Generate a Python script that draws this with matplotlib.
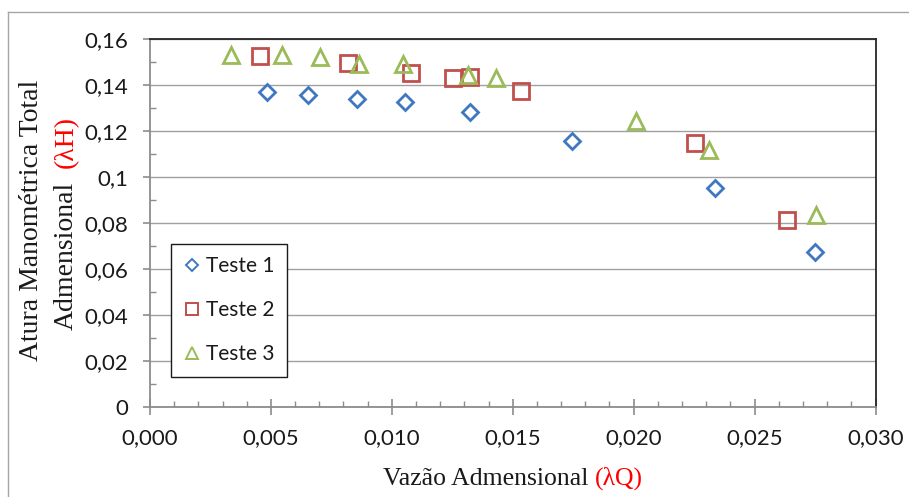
import matplotlib
matplotlib.use("Agg")
import matplotlib.pyplot as plt
from matplotlib.ticker import MultipleLocator, FixedLocator, FixedFormatter
from matplotlib.lines import Line2D

# ---- data -------------------------------------------------------------
teste1_q = [0.00483, 0.00655, 0.00855, 0.01054, 0.01323, 0.01746, 0.02336, 0.02751]
teste1_h = [0.1371, 0.1356, 0.1338, 0.1325, 0.1284, 0.1157, 0.0950, 0.0673]

teste2_q = [0.00455, 0.00820, 0.01078, 0.01252, 0.01323, 0.01533, 0.02254, 0.02633]
teste2_h = [0.1526, 0.1494, 0.1453, 0.1429, 0.1436, 0.1374, 0.1146, 0.0812]

teste3_q = [0.00334, 0.00545, 0.00703, 0.00865, 0.01045, 0.01316, 0.01431, 0.02008, 0.02312, 0.02753]
teste3_h = [0.1530, 0.1530, 0.1520, 0.1491, 0.1491, 0.1443, 0.1432, 0.1245, 0.1117, 0.0834]

series_names = ["Teste 1", "Teste 2", "Teste 3"]

x_ticks = [0.000, 0.005, 0.010, 0.015, 0.020, 0.025, 0.030]
x_tick_labels = ["0,000", "0,005", "0,010", "0,015", "0,020", "0,025", "0,030"]
y_ticks = [0.00, 0.02, 0.04, 0.06, 0.08, 0.10, 0.12, 0.14, 0.16]
y_tick_labels = ["0", "0,02", "0,04", "0,06", "0,08", "0,1", "0,12", "0,14", "0,16"]

x_label_main, x_label_sym = "Vazão Admensional", "(λQ)"
y_label_line1 = "Atura Manométrica Total"
y_label_main, y_label_sym = "Admensional", "(λH)"

# ---- style ------------------------------------------------------------
W, H = 909, 497
SANS = ["Lato", "DejaVu Sans"]
SERIF = ["Liberation Serif", "DejaVu Serif"]
BLUE, RED, GREEN = "#3f78c0", "#c0504d", "#9bbb59"
AXIS_GRAY = "#8c8c8c"
TEXT = "#1a1a1a"

fig = plt.figure(figsize=(W / 100, H / 100), dpi=100)
fig.patch.set_facecolor("white")

# thin frame around the chart area (left and top edges)
fig.add_artist(Line2D([8 / W, 8 / W], [0, 1 - 12 / H], transform=fig.transFigure,
                      color="#a6a6a6", lw=1.0))
fig.add_artist(Line2D([8 / W, 1], [1 - 12 / H, 1 - 12 / H], transform=fig.transFigure,
                      color="#a6a6a6", lw=1.0))

ax = fig.add_axes([150 / W, 1 - 406.7 / H, (875.5 - 150) / W, (406.7 - 39) / H])

ax.plot(teste1_q, teste1_h, linestyle="none", marker="D", ms=8.3, mfc="none",
        mec=BLUE, mew=2.0, label=series_names[0], zorder=3)
ax.plot(teste2_q, teste2_h, linestyle="none", marker="s", ms=11.5, mfc="none",
        mec=RED, mew=2.0, label=series_names[1], zorder=3)
ax.plot(teste3_q, teste3_h, linestyle="none", marker="^", ms=12, mfc="none",
        mec=GREEN, mew=2.0, label=series_names[2], zorder=3)

ax.set_xlim(0, 0.030)
ax.set_ylim(0, 0.16)
ax.xaxis.set_major_locator(FixedLocator(x_ticks))
ax.xaxis.set_major_formatter(FixedFormatter(x_tick_labels))
ax.yaxis.set_major_locator(FixedLocator(y_ticks))
ax.yaxis.set_major_formatter(FixedFormatter(y_tick_labels))
ax.xaxis.set_minor_locator(MultipleLocator(0.001))
ax.yaxis.set_minor_locator(MultipleLocator(0.01))

ax.yaxis.grid(True, which="major", color="#a0a0a0", lw=1.0)
ax.set_axisbelow(True)

for side in ("left", "bottom"):
    ax.spines[side].set_color(AXIS_GRAY)
    ax.spines[side].set_linewidth(1.3)
for side in ("top", "right"):
    ax.spines[side].set_color("#262626")
    ax.spines[side].set_linewidth(1.3)

ax.tick_params(axis="x", which="major", direction="inout", length=11, width=1.2,
               color=AXIS_GRAY, pad=10, labelsize=16, labelcolor=TEXT)
ax.tick_params(axis="x", which="minor", direction="in", length=4.5, width=1.0,
               color=AXIS_GRAY)
ax.tick_params(axis="y", which="major", direction="out", length=5, width=1.2,
               color=AXIS_GRAY, pad=11, labelsize=16, labelcolor=TEXT)
ax.tick_params(axis="y", which="minor", direction="in", length=4.5, width=1.0,
               color=AXIS_GRAY)
for lab in ax.get_xticklabels() + ax.get_yticklabels():
    lab.set_family(SANS)

leg = ax.legend(loc="upper left", bbox_to_anchor=(171 / W, 1 - 244 / H),
                bbox_transform=fig.transFigure, borderaxespad=0, frameon=True,
                fancybox=False, edgecolor=TEXT, framealpha=1,
                prop={"family": SANS, "size": 15}, markerscale=0.72,
                handlelength=0.8, handletextpad=0.3, labelspacing=1.15,
                borderpad=0.6)
leg.get_frame().set_linewidth(1.0)
for t in leg.get_texts():
    t.set_color(TEXT)
for h in leg.legend_handles:
    h.set_markeredgewidth(1.4)

# ---- axis titles with the symbol part in red ---------------------------
renderer = fig.canvas.get_renderer()


def text_length(s, size, rotation):
    t = fig.text(0, 0, s, fontsize=size, family=SERIF, rotation=rotation)
    bb = t.get_window_extent(renderer)
    t.remove()
    return bb.height if rotation else bb.width


def two_tone_horizontal(main, sym, cx, base_y, size, sep=" "):
    L = text_length(main + sep + sym, size, 0)
    x0 = cx - L / 2
    fig.text(x0 / W, base_y / H, main, ha="left", va="baseline", fontsize=size,
             family=SERIF, color=TEXT)
    fig.text((x0 + L) / W, base_y / H, sym, ha="right", va="baseline", fontsize=size,
             family=SERIF, color="red")


def two_tone_vertical(main, sym, base_x, cy, size, sep="  "):
    L = text_length(main + sep + sym, size, 90)
    y0 = cy - L / 2
    fig.text(base_x / W, y0 / H, main, ha="left", va="baseline", rotation=90,
             rotation_mode="anchor", fontsize=size, family=SERIF, color=TEXT)
    fig.text(base_x / W, (y0 + L) / H, sym, ha="right", va="baseline", rotation=90,
             rotation_mode="anchor", fontsize=size, family=SERIF, color="red")


two_tone_horizontal(x_label_main, x_label_sym, 513, 12, 18.5)
fig.text(38 / W, 277 / H, y_label_line1, ha="center", va="baseline", rotation=90,
         rotation_mode="anchor", fontsize=20, family=SERIF, color=TEXT)
two_tone_vertical(y_label_main, y_label_sym, 73, 274, 20)

fig.savefig("out.png", dpi=100, facecolor="white")
